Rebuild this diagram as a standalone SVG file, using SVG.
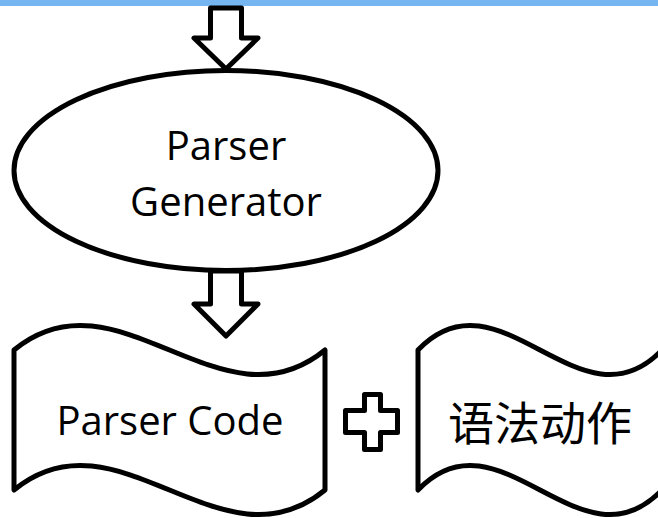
<svg xmlns="http://www.w3.org/2000/svg" width="658" height="518" viewBox="0 0 658 518">
  <style>
    .outline { fill: #ffffff; stroke: #000000; stroke-width: 5; stroke-linejoin: round; stroke-linecap: round; }
    .label { font-family: "Open Sans", "Liberation Sans", sans-serif; font-size: 40px; fill: #000000; text-anchor: middle; }
    .label-cjk { font-family: "Noto Sans CJK SC", sans-serif; font-size: 46px; fill: #000000; text-anchor: middle; }
  </style>

  <rect width="658" height="518" fill="#ffffff"/>
  <!-- header strip -->
  <rect x="0" y="0" width="658" height="6" fill="#75b5f0"/>

  <!-- generator -->
  <g id="parser-generator">
    <ellipse class="outline" cx="226" cy="170.5" rx="212" ry="100"/>
    <text class="label" x="226" y="160">Parser</text>
    <text class="label" x="226" y="216">Generator</text>
  </g>

  <!-- block arrows -->
  <g id="connectors">
    <path class="outline" d="M210.5,8 L241.5,8 L241.5,38 L258,38 L226,69 L194,38 L210.5,38 Z"/>
    <path class="outline" d="M210.5,271 L241.5,271 L241.5,304 L258,304 L226,336 L194,304 L210.5,304 Z"/>
  </g>

  <!-- generated code (punched-tape shape) -->
  <g id="parser-code">
    <path class="outline" d="M14,350 C117.7,265 221.3,435 325,350 L325,490 C221.3,575 117.7,405 14,490 Z"/>
    <text class="label" x="170" y="435">Parser Code</text>
  </g>

  <!-- plus sign -->
  <g id="plus">
    <path class="outline" d="M364.5,394.5 L380.5,394.5 L380.5,410.5 L397.5,410.5 L397.5,432.5 L380.5,432.5 L380.5,449.5 L364.5,449.5 L364.5,432.5 L345.5,432.5 L345.5,410.5 L364.5,410.5 Z"/>
  </g>

  <!-- semantic actions -->
  <g id="semantic-actions">
    <path class="outline" d="M418,350 C499.3,265 580.7,435 662,350 L662,490 C580.7,575 499.3,405 418,490 Z"/>
    <text class="label-cjk" x="540" y="440">语法动作</text>
  </g>
</svg>
